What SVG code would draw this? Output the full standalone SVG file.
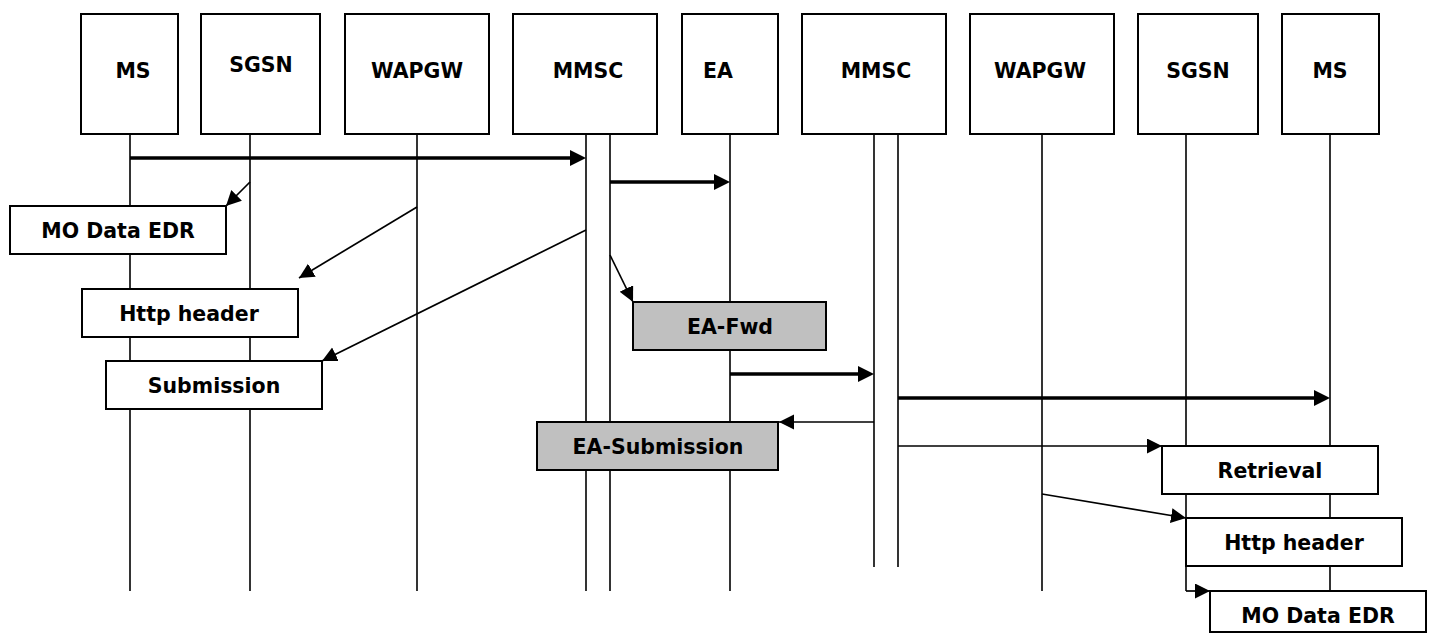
<svg xmlns="http://www.w3.org/2000/svg" width="1435" height="634" viewBox="0 0 1435 634">
  <style>
    .bg { fill: #ffffff; }
    .box { fill: #ffffff; stroke: #000000; stroke-width: 2; }
    .shade { fill: #c0c0c0; stroke: #000000; stroke-width: 2; }
    .life { stroke: #000000; stroke-width: 1.6; fill: none; }
    .thin { stroke: #000000; stroke-width: 1.7; fill: none; marker-end: url(#headThin); }
    .thick { stroke: #000000; stroke-width: 3.6; fill: none; marker-end: url(#headThick); }
    .hdr { font-family: "DejaVu Sans", Verdana, sans-serif; font-weight: bold; font-size: 20.5px; fill: #000000; text-anchor: middle; }
    .lbl { font-family: "DejaVu Sans", Verdana, sans-serif; font-weight: bold; font-size: 20.5px; fill: #000000; text-anchor: middle; }
  </style>
  <defs>
    <marker id="headThin" markerUnits="userSpaceOnUse" markerWidth="16" markerHeight="16" refX="15" refY="7.5" orient="auto">
      <path d="M0,0 L15,7.5 L0,15 z" fill="#000000"/>
    </marker>
    <marker id="headThick" markerUnits="userSpaceOnUse" markerWidth="17" markerHeight="17" refX="8" refY="8" orient="auto">
      <path d="M0,0 L16,8 L0,16 z" fill="#000000"/>
    </marker>
  </defs>

  <rect class="bg" x="0" y="0" width="1435" height="634"/>

  <!-- lifelines -->
  <g id="lifelines">
    <line class="life" x1="130" y1="134" x2="130" y2="591"/>
    <line class="life" x1="250" y1="134" x2="250" y2="591"/>
    <line class="life" x1="417" y1="134" x2="417" y2="591"/>
    <line class="life" x1="586" y1="134" x2="586" y2="591"/>
    <line class="life" x1="610" y1="134" x2="610" y2="591"/>
    <line class="life" x1="730" y1="134" x2="730" y2="591"/>
    <line class="life" x1="874" y1="134" x2="874" y2="567"/>
    <line class="life" x1="898" y1="134" x2="898" y2="567"/>
    <line class="life" x1="1042" y1="134" x2="1042" y2="591"/>
    <line class="life" x1="1186" y1="134" x2="1186" y2="591"/>
    <line class="life" x1="1330" y1="134" x2="1330" y2="591"/>
  </g>

  <!-- messages -->
  <g id="connectors">
    <line class="thick" x1="130" y1="158" x2="578" y2="158"/>
    <line class="thick" x1="610" y1="182" x2="722" y2="182"/>
    <line class="thin" x1="250" y1="182" x2="226" y2="206"/>
    <line class="thin" x1="417" y1="207" x2="299" y2="278"/>
    <line class="thin" x1="586" y1="230" x2="322" y2="361"/>
    <line class="thin" x1="610" y1="255" x2="633" y2="302"/>
    <line class="thick" x1="730" y1="374" x2="866" y2="374"/>
    <line class="thick" x1="898" y1="398" x2="1322" y2="398"/>
    <line class="thin" x1="874" y1="422" x2="779" y2="422"/>
    <line class="thin" x1="898" y1="446" x2="1162" y2="446"/>
    <line class="thin" x1="1042" y1="494" x2="1186" y2="518"/>
    <line class="thin" x1="1186" y1="591" x2="1210" y2="591"/>
  </g>

  <!-- participants -->
  <g id="ms-left">
    <rect class="box" x="81" y="14" width="97" height="120"/>
    <text class="hdr" x="133" y="78">MS</text>
  </g>
  <g id="sgsn-left">
    <rect class="box" x="201" y="14" width="119" height="120"/>
    <text class="hdr" x="261" y="72">SGSN</text>
  </g>
  <g id="wapgw-left">
    <rect class="box" x="345" y="14" width="144" height="120"/>
    <text class="hdr" x="417" y="78">WAPGW</text>
  </g>
  <g id="mmsc-left">
    <rect class="box" x="513" y="14" width="144" height="120"/>
    <text class="hdr" x="588" y="78">MMSC</text>
  </g>
  <g id="ea">
    <rect class="box" x="682" y="14" width="96" height="120"/>
    <text class="hdr" x="718" y="78">EA</text>
  </g>
  <g id="mmsc-right">
    <rect class="box" x="802" y="14" width="144" height="120"/>
    <text class="hdr" x="876" y="78">MMSC</text>
  </g>
  <g id="wapgw-right">
    <rect class="box" x="970" y="14" width="144" height="120"/>
    <text class="hdr" x="1040" y="78">WAPGW</text>
  </g>
  <g id="sgsn-right">
    <rect class="box" x="1138" y="14" width="120" height="120"/>
    <text class="hdr" x="1198" y="78">SGSN</text>
  </g>
  <g id="ms-right">
    <rect class="box" x="1282" y="14" width="97" height="120"/>
    <text class="hdr" x="1330" y="78">MS</text>
  </g>

  <!-- records -->
  <g id="mo-data-edr-left">
    <rect class="box" x="10" y="206" width="216" height="48"/>
    <text class="lbl" x="118" y="238">MO Data EDR</text>
  </g>
  <g id="http-header-left">
    <rect class="box" x="82" y="289" width="216" height="48"/>
    <text class="lbl" x="189" y="321">Http header</text>
  </g>
  <g id="submission">
    <rect class="box" x="106" y="361" width="216" height="48"/>
    <text class="lbl" x="214" y="393">Submission</text>
  </g>
  <g id="ea-fwd">
    <rect class="shade" x="633" y="302" width="193" height="48"/>
    <text class="lbl" x="730" y="334">EA-Fwd</text>
  </g>
  <g id="ea-submission">
    <rect class="shade" x="537" y="422" width="241" height="48"/>
    <text class="lbl" x="658" y="454">EA-Submission</text>
  </g>
  <g id="retrieval">
    <rect class="box" x="1162" y="446" width="216" height="48"/>
    <text class="lbl" x="1270" y="478">Retrieval</text>
  </g>
  <g id="http-header-right">
    <rect class="box" x="1186" y="518" width="216" height="48"/>
    <text class="lbl" x="1294" y="550">Http header</text>
  </g>
  <g id="mo-data-edr-right">
    <rect class="box" x="1210" y="591" width="216" height="41"/>
    <text class="lbl" x="1318" y="623">MO Data EDR</text>
  </g>
</svg>
